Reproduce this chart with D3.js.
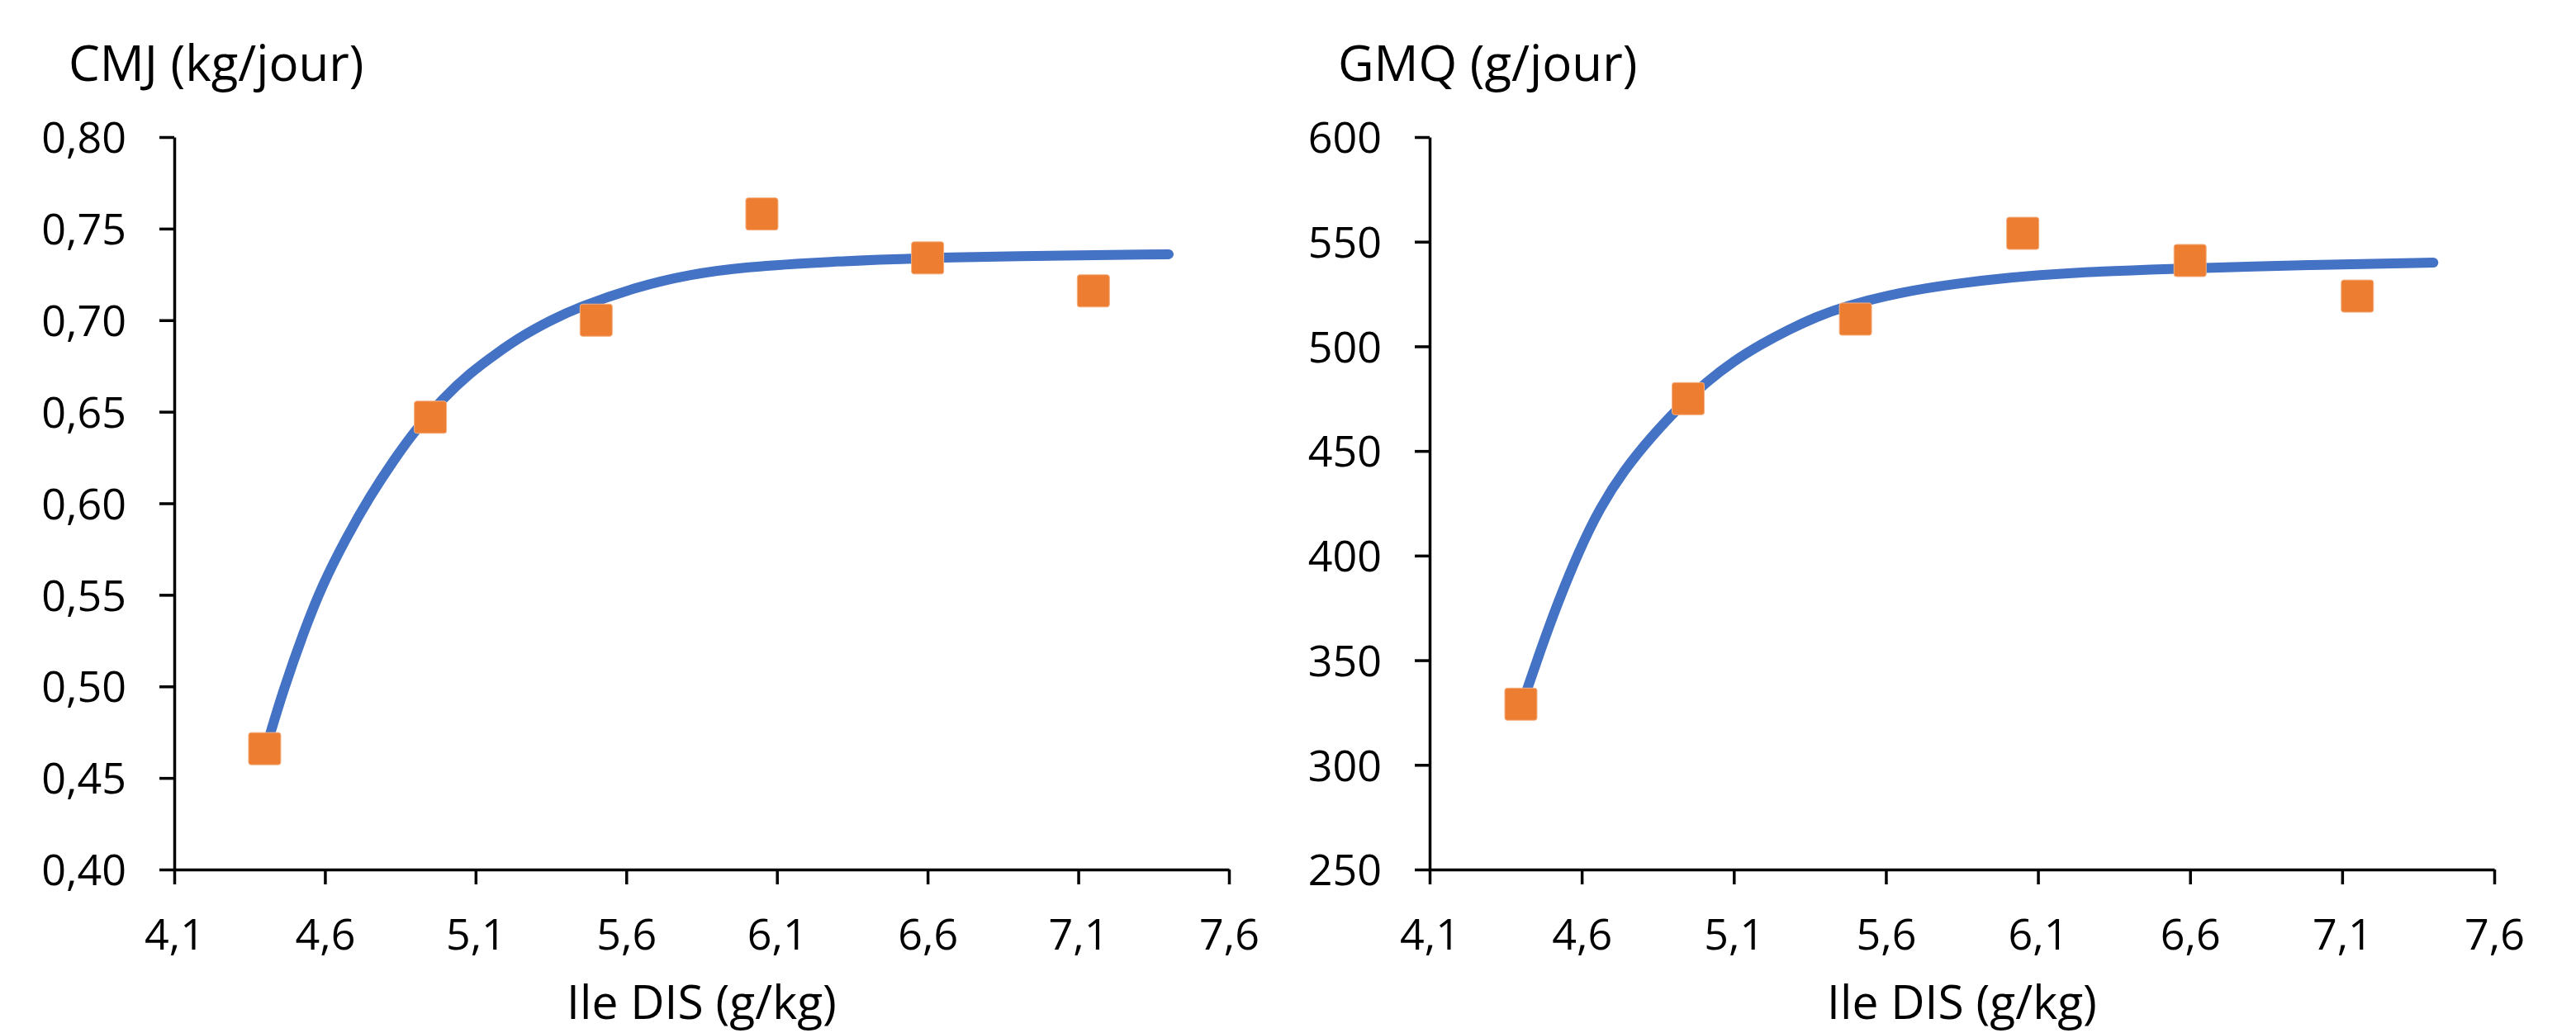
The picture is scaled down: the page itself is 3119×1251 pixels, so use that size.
<!DOCTYPE html>
<html>
<head>
<meta charset="utf-8">
<script src="https://cdn.jsdelivr.net/npm/d3@7"></script>
<style>
  body { margin: 0; background: #fff; }
  text { font-family: "Open Sans", "Noto Sans", sans-serif; fill: #000; }
</style>
</head>
<body>
<div id="chart"></div>
<script>
// measured points (Ile DIS, g/kg)
const ileDis = [4.4, 4.95, 5.5, 6.05, 6.6, 7.15];
const cmj = [0.466, 0.647, 0.700, 0.758, 0.734, 0.716];
const gmq = [329, 475, 513, 554, 541, 524];

// fitted curves
const cmjCurveX = [4.40, 4.42, 4.46, 4.53, 4.59, 4.67, 4.75, 4.83, 4.90, 4.99, 5.08, 5.17, 5.26, 5.35, 5.44, 5.63, 5.81, 5.99, 6.27, 6.60, 6.86, 7.40];
const cmjCurveY = [0.464, 0.475, 0.497, 0.530, 0.555, 0.581, 0.604, 0.624, 0.640, 0.657, 0.671, 0.682, 0.692, 0.700, 0.707, 0.718, 0.725, 0.729, 0.732, 0.734, 0.735, 0.736];
const gmqCurveX = [4.40, 4.42, 4.47, 4.52, 4.59, 4.66, 4.74, 4.83, 4.92, 5.01, 5.10, 5.19, 5.28, 5.37, 5.46, 5.65, 5.83, 6.01, 6.19, 6.50, 7.02, 7.40];
const gmqCurveY = [327, 336, 357, 377, 402, 423, 441, 457, 471, 483, 493, 501, 508, 514, 519, 526, 530, 533, 535, 537, 539, 540];

// tick labels
const xTicks = [4.1, 4.6, 5.1, 5.6, 6.1, 6.6, 7.1, 7.6];
const cmjTicks = [0.40, 0.45, 0.50, 0.55, 0.60, 0.65, 0.70, 0.75, 0.80];
const gmqTicks = [250, 300, 350, 400, 450, 500, 550, 600];

const titles = ["CMJ (kg/jour)", "GMQ (g/jour)"];
const xTitle = "Ile DIS (g/kg)";

const W = 3119, H = 1251;
const plotTop = 166, plotBottom = 1053;

const fr = d3.formatLocale({decimal: ",", thousands: " ", grouping: [3], currency: ["", ""]});

const svg = d3.select("#chart")
    .append("svg")
    .attr("width", W)
    .attr("height", H)
    .style("background-color", "white");

const makePanel = (cfg) => {
    const x = d3.scaleLinear().domain([4.1, 7.6]).range([cfg.left, cfg.right]);
    const y = d3.scaleLinear().domain(d3.extent(cfg.yTicks)).range([plotBottom, plotTop]);
    const g = svg.append("g");

    // axes
    const xAxis = d3.axisBottom(x)
        .tickValues(xTicks)
        .tickSize(18)
        .tickSizeOuter(0)
        .tickPadding(42)
        .tickFormat(fr.format(".1f"));
    const gx = g.append("g")
        .attr("transform", `translate(0, ${plotBottom})`)
        .call(xAxis);
    gx.selectAll("text").style("font-size", "52px").attr("dy", "0.71em");

    const yAxis = d3.axisLeft(y)
        .tickValues(cfg.yTicks)
        .tickSize(18)
        .tickSizeOuter(0)
        .tickPadding(40)
        .tickFormat(cfg.yFormat);
    const gy = g.append("g")
        .attr("transform", `translate(${cfg.left}, 0)`)
        .call(yAxis);
    gy.selectAll("text").style("font-size", "52px").attr("dy", "0.36em");

    g.selectAll(".domain, .tick line")
        .attr("stroke", "#000")
        .attr("stroke-width", 3.5);

    // fitted curve
    const pts = cfg.curveX.map((v, i) => [v, cfg.curveY[i]]);
    g.append("path")
        .datum(pts)
        .attr("fill", "none")
        .attr("stroke", "#4472C4")
        .attr("stroke-width", 12)
        .attr("stroke-linecap", "round")
        .attr("d", d3.line()
            .x(d => x(d[0]))
            .y(d => y(d[1]))
            .curve(d3.curveBasis));

    // measured points
    const s = 39;
    g.selectAll("rect.pt")
        .data(ileDis.map((v, i) => [v, cfg.values[i]]))
        .enter()
        .append("rect")
        .attr("class", "pt")
        .attr("x", d => x(d[0]) - s / 2)
        .attr("y", d => y(d[1]) - s / 2)
        .attr("width", s)
        .attr("height", s)
        .attr("rx", 3)
        .attr("fill", "#ED7D31")
        .attr("stroke", "#F4B183")
        .attr("stroke-width", 1);

    // titles
    g.append("text")
        .attr("x", cfg.titleX)
        .attr("y", 98)
        .style("font-size", "60px")
        .text(cfg.title);

    g.append("text")
        .attr("x", (cfg.left + cfg.right) / 2)
        .attr("y", 1234)
        .attr("text-anchor", "middle")
        .style("font-size", "57px")
        .text(xTitle);
}

makePanel({
    left: 211, right: 1488,
    yTicks: cmjTicks, yFormat: fr.format(".2f"),
    values: cmj, curveX: cmjCurveX, curveY: cmjCurveY,
    title: titles[0], titleX: 83
});

makePanel({
    left: 1731, right: 3020,
    yTicks: gmqTicks, yFormat: fr.format("d"),
    values: gmq, curveX: gmqCurveX, curveY: gmqCurveY,
    title: titles[1], titleX: 1620
});
</script>
</body>
</html>
